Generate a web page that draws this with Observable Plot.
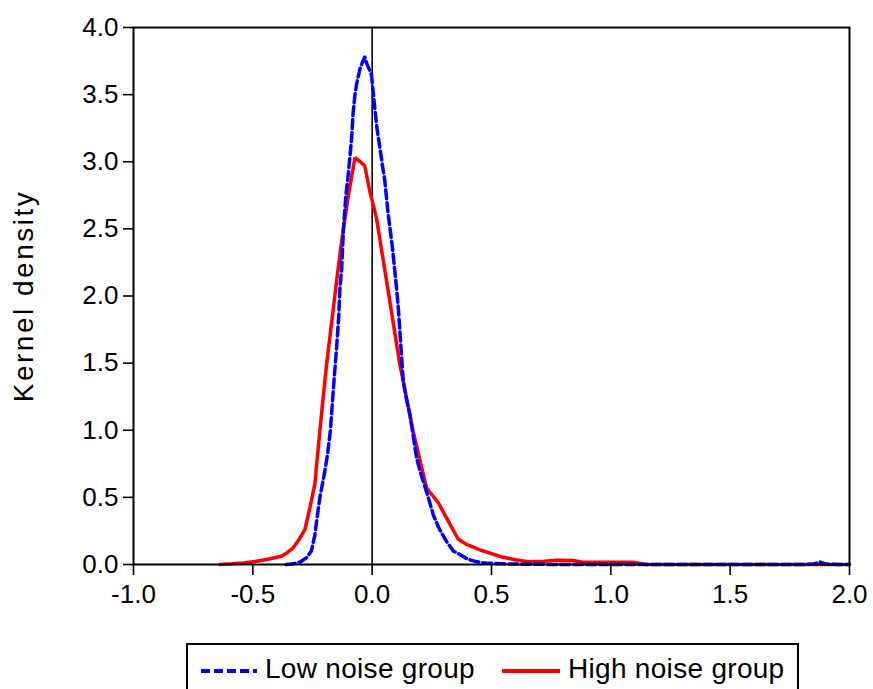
<!DOCTYPE html>
<html>
<head>
<meta charset="utf-8">
<script src="https://cdn.jsdelivr.net/npm/d3@7"></script>
<script src="https://cdn.jsdelivr.net/npm/@observablehq/plot@0.6"></script>
<style>
  html, body { margin: 0; padding: 0; background: #fff; }
  body { position: relative; width: 873px; height: 689px; overflow: hidden; font-family: "Liberation Sans", Arial, sans-serif; }
  #chart { position: absolute; left: 0; top: 0; }
  #legend { position: absolute; left: 186px; top: 643px; width: 613px; height: 60px; box-sizing: border-box; border: 2px solid #000; background: #fff; }
  .item { position: absolute; top: 8px; font-size: 28px; letter-spacing: 0.3px; color: #000; white-space: nowrap; line-height: 32px; }
  .swatch { position: absolute; top: 23px; }
</style>
</head>
<body>
<div id="chart"></div>
<div id="legend">
  <svg class="swatch" style="left:12px" width="58" height="6"><line x1="1" y1="3" x2="57" y2="3" stroke="#0000FF" stroke-width="4" stroke-dasharray="9,4"/></svg>
  <div class="item" style="left:77px">Low noise group</div>
  <svg class="swatch" style="left:314px" width="58" height="6"><line x1="0" y1="3" x2="58" y2="3" stroke="#FF0000" stroke-width="4"/></svg>
  <div class="item" style="left:380px">High noise group</div>
</div>
<script>
// Tick labels
const xTicks = [-1.0, -0.5, 0.0, 0.5, 1.0, 1.5, 2.0];
const yTicks = [0.0, 0.5, 1.0, 1.5, 2.0, 2.5, 3.0, 3.5, 4.0];

// Low noise group (blue, dashed)
const lowX = [-0.36, -0.33, -0.30, -0.275, -0.255, -0.24, -0.23, -0.219, -0.20, -0.187, -0.175, -0.17, -0.16, -0.149, -0.14, -0.135, -0.128, -0.12, -0.11, -0.10, -0.09, -0.086, -0.08, -0.072, -0.065, -0.05, -0.031, -0.02, -0.003, 0.011, 0.02, 0.032, 0.045, 0.053, 0.067, 0.085, 0.102, 0.11, 0.116, 0.13, 0.145, 0.158, 0.186, 0.20, 0.214, 0.235, 0.256, 0.28, 0.312, 0.34, 0.367, 0.40, 0.44, 0.479, 0.55, 0.65, 0.80, 1.0, 1.2, 1.4, 1.6, 1.8, 1.85, 1.875, 1.9, 1.95, 2.0];
const lowY = [0, 0.005, 0.02, 0.05, 0.10, 0.22, 0.36, 0.50, 0.68, 0.82, 1.0, 1.12, 1.37, 1.615, 1.85, 2.06, 2.2, 2.51, 2.75, 2.91, 3.1, 3.18, 3.36, 3.5, 3.58, 3.7, 3.78, 3.72, 3.65, 3.40, 3.25, 3.11, 2.95, 2.86, 2.61, 2.36, 2.06, 1.9, 1.74, 1.37, 1.22, 1.12, 0.795, 0.70, 0.62, 0.50, 0.37, 0.27, 0.17, 0.10, 0.075, 0.04, 0.02, 0.01, 0.005, 0.002, 0, 0, 0, 0, 0, 0, 0.003, 0.02, 0.003, 0, 0];

// High noise group (red, solid)
const highX = [-0.638, -0.59, -0.54, -0.49, -0.442, -0.41, -0.38, -0.355, -0.331, -0.305, -0.282, -0.26, -0.24, -0.226, -0.21, -0.191, -0.17, -0.149, -0.13, -0.114, -0.095, -0.072, -0.05, -0.031, -0.01, 0.018, 0.074, 0.116, 0.172, 0.20, 0.228, 0.277, 0.32, 0.36, 0.395, 0.45, 0.535, 0.60, 0.654, 0.72, 0.773, 0.84, 0.883, 1.0, 1.09, 1.15, 1.5, 2.0];
const highY = [0, 0.005, 0.012, 0.022, 0.037, 0.05, 0.062, 0.09, 0.124, 0.19, 0.26, 0.43, 0.60, 0.87, 1.16, 1.49, 1.8, 2.11, 2.38, 2.58, 2.8, 3.03, 3.0, 2.97, 2.78, 2.58, 1.96, 1.49, 0.99, 0.78, 0.57, 0.46, 0.32, 0.19, 0.15, 0.11, 0.06, 0.035, 0.02, 0.025, 0.032, 0.03, 0.017, 0.017, 0.017, 0, 0, 0];

const low = lowX.map((x, i) => ({x, y: lowY[i]}));
const high = highX.map((x, i) => ({x, y: highY[i]}));

const fmt = d => d.toFixed(1);
const font = "Liberation Sans, Arial, sans-serif";

const chart = Plot.plot({
  width: 873,
  height: 620,
  marginLeft: 133,
  marginRight: 24,
  marginTop: 27,
  marginBottom: 56,
  style: { fontFamily: font, background: "#fff", color: "#000" },
  x: { domain: [-1, 2] },
  y: { domain: [0, 4] },
  marks: [
    Plot.ruleX([0], { stroke: "#000", strokeWidth: 1.6 }),
    Plot.line(high, { x: "x", y: "y", stroke: "#FF0000", strokeWidth: 3.5, strokeLinejoin: "miter" }),
    Plot.line(low, { x: "x", y: "y", stroke: "#0000FF", strokeWidth: 3.5, strokeDasharray: "9,4" }),
    Plot.frame({ stroke: "#000", strokeWidth: 2 }),
    Plot.axisX({ ticks: xTicks, tickFormat: fmt, tickSize: 11, tickPadding: 9, fontSize: 26, label: null, strokeWidth: 1.6 }),
    Plot.axisY({ ticks: yTicks, tickFormat: fmt, tickSize: 10, tickPadding: 5, fontSize: 26, label: null, strokeWidth: 1.6 }),
    Plot.axisY({ ticks: [], label: "Kernel density", labelAnchor: "center", labelArrow: "none", labelOffset: 120, fontSize: 28, ariaLabel: "ylabel" })
  ]
});
document.getElementById("chart").appendChild(chart);
d3.select(chart).selectAll("text").filter(function () { return this.textContent === "Kernel density"; }).attr("letter-spacing", "2.5px");
</script>
</body>
</html>
